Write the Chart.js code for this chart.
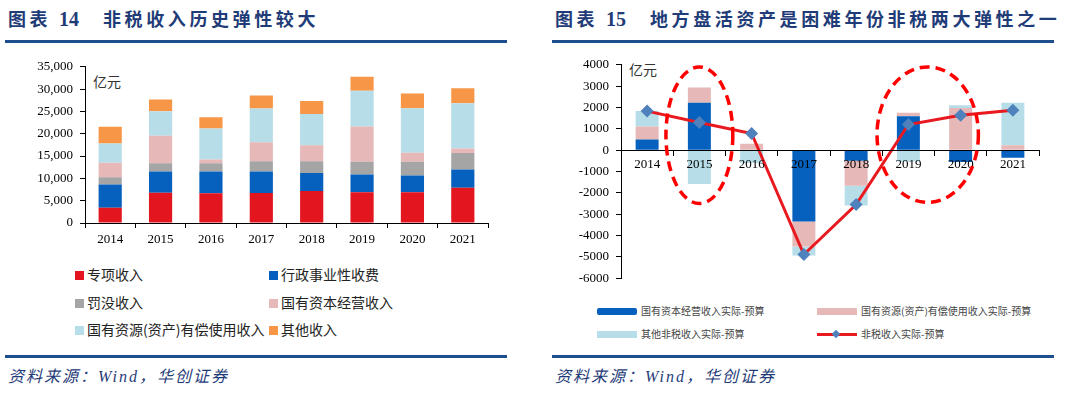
<!DOCTYPE html>
<html>
<head>
<meta charset="utf-8">
<script src="https://cdn.jsdelivr.net/npm/chart.js@4.4.1/dist/chart.umd.min.js"></script>
<style>
  body { margin: 0; width: 1080px; height: 398px; background: #fff; position: relative; overflow: hidden;
         font-family: "Liberation Serif", "Noto Sans CJK SC", serif; }
  .t { position: absolute; top: 6px; font-size: 18px; font-weight: bold; color: #1f3c78; white-space: nowrap;
       font-family: "Noto Sans CJK SC", sans-serif; letter-spacing: 3.6px; line-height: 24px; }
  .tn { font-family: "Liberation Serif", serif; font-size: 20px; letter-spacing: 0; }
  .rule { position: absolute; height: 3px; background: #1f4e8f; }
  .src { position: absolute; top: 363px; font-size: 16px; font-style: italic; color: #1f3c78; letter-spacing: 2px;
         font-family: "Liberation Serif", "Noto Sans CJK SC", serif; }
  .unit { position: absolute; font-size: 14px; color: #333; font-family: "Noto Sans CJK SC", sans-serif; line-height: 16px; }
  canvas { position: absolute; }
  .lg { position: absolute; font-size: 14px; color: #222; white-space: nowrap; line-height: 16px;
        font-family: "Noto Sans CJK SC", sans-serif; }
  .lg i { display: inline-block; width: 9px; height: 9px; margin-right: 3px; vertical-align: 0px; }
  .lg2 { position: absolute; font-size: 10px; color: #444; white-space: nowrap; line-height: 12px;
         font-family: "Noto Sans CJK SC", sans-serif; }
  .lg2 i { position: absolute; left: -44px; top: 3px; width: 40px; height: 7px; }
</style>
</head>
<body>
<!-- left panel -->
<div class="t" style="left:8px">图表 <span class="tn">14</span></div>
<div class="t" style="left:103px">非税收入历史弹性较大</div>
<div class="rule" style="left:5px;width:502px;top:40px"></div>
<div class="unit" style="left:93px;top:73px">亿元</div>
<canvas id="left" width="540" height="203" style="left:0;top:52px"></canvas>
<div class="lg" style="left:75px;top:266px"><i style="background:#e3151e"></i>专项收入</div>
<div class="lg" style="left:269px;top:266px"><i style="background:#0561bd"></i>行政事业性收费</div>
<div class="lg" style="left:75px;top:294px"><i style="background:#a5a5a5"></i>罚没收入</div>
<div class="lg" style="left:269px;top:294px"><i style="background:#e6b8b7"></i>国有资本经营收入</div>
<div class="lg" style="left:75px;top:321px"><i style="background:#b7dee8"></i>国有资源(资产)有偿使用收入</div>
<div class="lg" style="left:269px;top:321px"><i style="background:#f79646"></i>其他收入</div>
<div class="rule" style="left:5px;width:502px;top:355px"></div>
<div class="src" style="left:8px">资料来源：Wind，华创证券</div>

<!-- right panel -->
<div class="t" style="left:555px">图表 <span class="tn">15</span></div>
<div class="t" style="left:650px">地方盘活资产是困难年份非税两大弹性之一</div>
<div class="rule" style="left:552px;width:502px;top:40px"></div>
<div class="unit" style="left:629px;top:61px">亿元</div>
<canvas id="right" width="540" height="243" style="left:540px;top:50px"></canvas>
<div class="lg2" style="left:641px;top:305px"><i style="background:#0561bd;border-radius:2px"></i>国有资本经营收入实际-预算</div>
<div class="lg2" style="left:861px;top:305px"><i style="background:#e6b8b7"></i>国有资源(资产)有偿使用收入实际-预算</div>
<div class="lg2" style="left:641px;top:328px"><i style="background:#b7dee8"></i>其他非税收入实际-预算</div>
<div class="lg2" style="left:861px;top:328px"><i style="background:#e8191f;height:3px;top:5px"></i><b style="position:absolute;left:-28px;top:3px;width:6px;height:6px;background:#4f81bd;transform:rotate(45deg)"></b>非税收入实际-预算</div>
<div class="rule" style="left:552px;width:502px;top:355px"></div>
<div class="src" style="left:555px">资料来源：Wind，华创证券</div>

<script>
// ---- left chart data (亿元) ----
const years = ['2014', '2015', '2016', '2017', '2018', '2019', '2020', '2021'];
const zhuanxiang   = [3400, 6800, 6650, 6720, 7160, 6870, 6870, 7900];   // 专项收入
const xingzheng    = [5240, 4720, 4870, 4800, 4070, 3990, 3770, 4060];   // 行政事业性收费
const famo         = [1630, 1850, 1850, 2290, 2580, 2880, 3100, 3700];   // 罚没收入
const ziben        = [3230, 6200, 880, 4290, 3620, 7900, 1990, 1030];    // 国有资本经营收入
const ziyuan       = [4300, 5470, 6950, 7530, 7020, 7980, 9970, 10120];  // 国有资源(资产)有偿使用收入
const qita         = [3770, 2660, 2500, 2950, 2880, 3170, 3330, 3400];   // 其他收入
const leftTicks    = [0, 5000, 10000, 15000, 20000, 25000, 30000, 35000];

// ---- right chart data (实际-预算, 亿元) ----
const zibenDiff    = [500, 2220, 0, -3340, -500, 1590, -550, -360];
const ziyuanDiff   = [610, 720, 300, -1180, -1170, 160, 1980, 230];
const qitaDiff     = [720, -1590, -600, -420, -920, -530, 130, 1990];
const feishuiDiff  = [1830, 1300, 780, -4890, -2550, 1200, 1640, 1875];
const rightTicks   = [-6000, -5000, -4000, -3000, -2000, -1000, 0, 1000, 2000, 3000, 4000];

const tickFont = { family: '"Liberation Serif", serif', size: 13 };

function axisGrid() {
    return { display: true, drawOnChartArea: false, tickLength: 5, color: '#000', lineWidth: 1 };
}

// ---- left: stacked bars ----
new Chart(document.getElementById('left'), {
    type: 'bar',
    data: {
        labels: years,
        datasets: [
            { label: '专项收入', data: zhuanxiang, backgroundColor: '#e3151e' },
            { label: '行政事业性收费', data: xingzheng, backgroundColor: '#0561bd' },
            { label: '罚没收入', data: famo, backgroundColor: '#a5a5a5' },
            { label: '国有资本经营收入', data: ziben, backgroundColor: '#e6b8b7' },
            { label: '国有资源(资产)有偿使用收入', data: ziyuan, backgroundColor: '#b7dee8' },
            { label: '其他收入', data: qita, backgroundColor: '#f79646' }
        ]
    },
    options: {
        responsive: false,
        animation: false,
        layout: { padding: { top: 10, right: 52, left: 0, bottom: 0 } },
        datasets: { bar: { categoryPercentage: 1, barPercentage: 0.46 } },
        plugins: { legend: { display: false }, tooltip: { enabled: false } },
        scales: {
            x: {
                stacked: true,
                grid: Object.assign(axisGrid(), { offset: true }),
                border: { display: true, color: '#000' },
                ticks: { color: '#000', font: tickFont, padding: 4 },
                afterFit(s) { s.height = 32; }
            },
            y: {
                stacked: true,
                min: 0, max: 35000,
                afterBuildTicks(s) { s.ticks = leftTicks.map(v => ({ value: v })); },
                ticks: { color: '#000', font: tickFont, padding: 7, callback: v => v.toLocaleString('en-US') },
                grid: axisGrid(),
                border: { display: true, color: '#000' },
                afterFit(s) { s.width = 85; }
            }
        }
    }
});

// ---- right: dashed ellipses highlighting 2015 and 2019-2020 ----
const ellipsePlugin = {
    id: 'ellipses',
    afterDraw(chart) {
        const { ctx, scales: { x, y } } = chart;
        const step = x.getPixelForValue(1) - x.getPixelForValue(0);
        const ring = (idx, rxRatio, top, bottom) => {
            const cx = x.getPixelForValue(idx);
            const y1 = y.getPixelForValue(top), y2 = y.getPixelForValue(bottom);
            ctx.beginPath();
            ctx.ellipse(cx, (y1 + y2) / 2, step * rxRatio, (y2 - y1) / 2, 0, 0, Math.PI * 2);
            ctx.stroke();
        };
        ctx.save();
        ctx.strokeStyle = '#ff0000';
        ctx.lineWidth = 3.5;
        ctx.setLineDash([10, 6]);
        ring(1, 0.64, 3900, -2500);
        ring(5.37, 0.97, 3900, -2450);
        ctx.restore();
    }
};

new Chart(document.getElementById('right'), {
    type: 'bar',
    data: {
        labels: years,
        datasets: [
            { label: '国有资本经营收入实际-预算', data: zibenDiff, backgroundColor: '#0561bd', order: 1 },
            { label: '国有资源(资产)有偿使用收入实际-预算', data: ziyuanDiff, backgroundColor: '#e6b8b7', order: 1 },
            { label: '其他非税收入实际-预算', data: qitaDiff, backgroundColor: '#b7dee8', order: 1 },
            {
                type: 'line', label: '非税收入实际-预算', data: feishuiDiff, stack: 'line', order: 0,
                borderColor: '#e8191f', borderWidth: 3, tension: 0,
                pointStyle: 'rectRot', pointRadius: 6.5,
                pointBackgroundColor: '#4f81bd', pointBorderColor: '#4f81bd', pointBorderWidth: 0
            }
        ]
    },
    options: {
        responsive: false,
        animation: false,
        layout: { padding: { top: 9, right: 41, left: 0, bottom: 12 } },
        datasets: { bar: { categoryPercentage: 1, barPercentage: 0.44 } },
        plugins: { legend: { display: false }, tooltip: { enabled: false } },
        scales: {
            x: {
                stacked: true,
                position: { y: 0 },
                grid: Object.assign(axisGrid(), { offset: true, z: 1 }),
                border: { display: true, color: '#000', z: 1 },
                ticks: { color: '#000', font: tickFont, padding: 2, z: 1 }
            },
            y: {
                stacked: true,
                min: -6000, max: 4000,
                afterBuildTicks(s) { s.ticks = rightTicks.map(v => ({ value: v })); },
                ticks: { color: '#000', font: tickFont, padding: 7, callback: v => String(v) },
                grid: axisGrid(),
                border: { display: true, color: '#000' },
                afterFit(s) { s.width = 81; }
            }
        }
    },
    plugins: [ellipsePlugin]
});
</script>
</body>
</html>
